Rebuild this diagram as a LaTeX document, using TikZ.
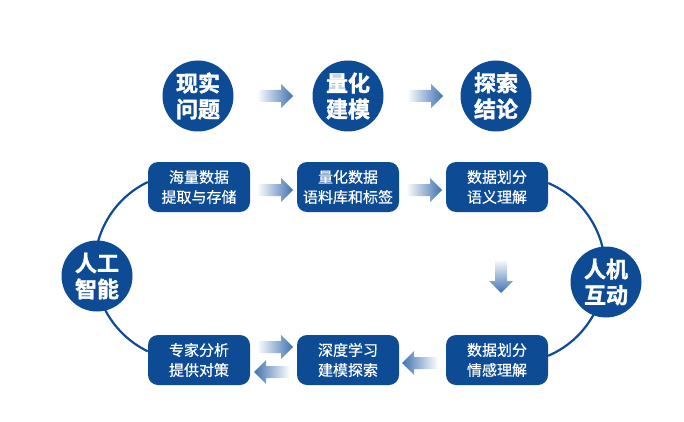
\documentclass[tikz,border=0pt]{standalone}
\usepackage{fontspec}
\newfontfamily\cjk{Noto Sans CJK SC}
\newfontfamily\cjkbox[FakeBold=0.4]{Noto Sans CJK SC}
\newfontfamily\cjkheavy[FakeBold=1.6]{Noto Sans CJK SC Bold}
\usetikzlibrary{calc}
\definecolor{db}{HTML}{0D4C94}
\definecolor{ab}{HTML}{3F72B0}
\begin{document}
\begin{tikzpicture}[x=1pt,y=-1pt,
  bigc/.style={circle,fill=db,minimum size=71pt,inner sep=0pt,text=white,
    font=\cjkheavy\fontsize{22}{26}\selectfont,align=center},
  sbox/.style={rounded corners=10pt,fill=db,minimum width=102pt,minimum height=50pt,
    inner sep=0pt,text=white,font=\cjkbox\fontsize{15}{20}\selectfont,align=center},
  loopline/.style={draw=db,line width=2.2pt},
  rarr/.pic={\shade[left color=white,right color=ab]
     (-18,-6) -- (6,-6) -- (6,-12) -- (18,0) -- (6,12) -- (6,6) -- (-18,6) -- cycle;},
  larr/.pic={\shade[left color=ab,right color=white]
     (18,-6) -- (-6,-6) -- (-6,-12) -- (-18,0) -- (-6,12) -- (-6,6) -- (18,6) -- cycle;},
  darr/.pic={\shade[top color=white,bottom color=ab]
     (-6,-17) -- (-6,5) -- (-12,5) -- (0,17) -- (12,5) -- (6,5) -- (6,-17) -- cycle;}
]
\useasboundingbox (0,0) rectangle (684,422);
% top row
\node[bigc] (c1) at (198,96) {现实\\问题};
\node[bigc] (c2) at (348,96) {量化\\建模};
\node[bigc] (c3) at (496,96) {探索\\结论};
\pic at (275,96) {rarr};
\pic at (425,96) {rarr};
% boxes
\node[sbox] (b1) at (199,187) {海量数据\\提取与存储};
\node[sbox] (b2) at (348,187) {量化数据\\语料库和标签};
\node[sbox] (b3) at (497,187) {数据划分\\语义理解};
\node[sbox] (b4) at (199,360) {专家分析\\提供对策};
\node[sbox] (b5) at (348,360) {深度学习\\建模探索};
\node[sbox] (b6) at (497,360) {数据划分\\情感理解};
% loop arcs
\draw[loopline] ([yshift=5pt]b1.west) arc[start angle=244.25,end angle=115.75,radius=94];
\draw[loopline] ([yshift=4pt]b3.east) arc[start angle=-66.8,end angle=66.8,radius=94];
% side circles
\node[bigc] (ai) at (97,276) {人工\\智能};
\node[bigc] (hci) at (606,282) {人机\\互动};
% arrows
\pic at (275,190) {rarr};
\pic at (424,190) {rarr};
\pic at (501,276) {darr};
\pic at (275,347) {rarr};
\pic at (272,372) {larr};
\pic at (420,363) {larr};
\end{tikzpicture}
\end{document}
